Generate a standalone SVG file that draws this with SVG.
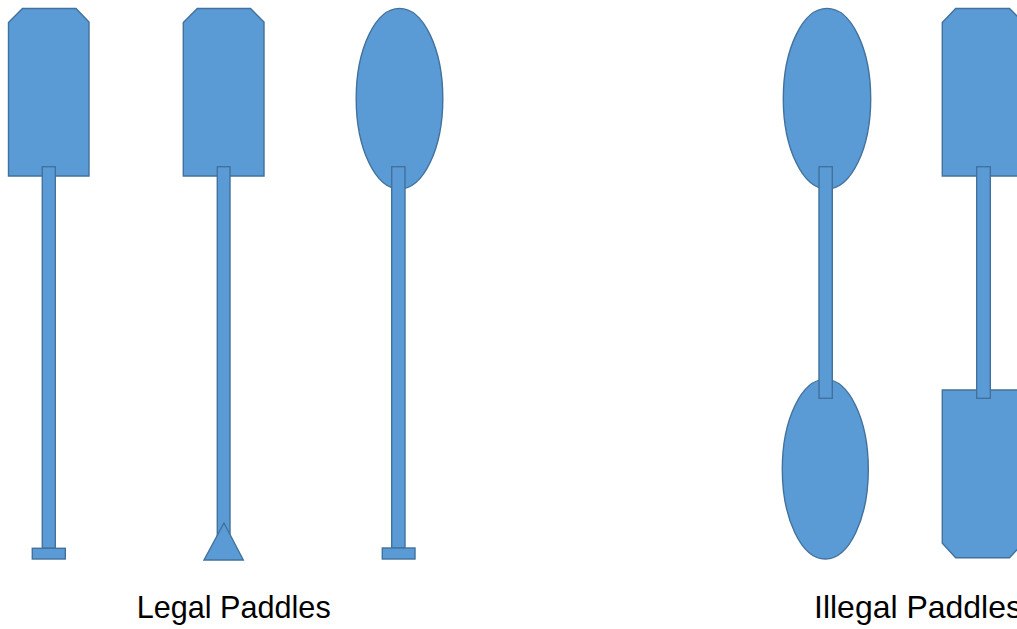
<svg xmlns="http://www.w3.org/2000/svg" width="1017" height="629" viewBox="0 0 1017 629">
<style>
.s{fill:#5B9BD5;stroke:#41719C;stroke-width:1.4;}
.t{font-family:"Liberation Sans",Arial,sans-serif;font-size:30.5px;fill:#000;}
</style>
<rect width="1017" height="629" fill="#fff"/>
<g id="paddle1">
<path class="s" d="M8.5,22.5 L22.5,8.5 L76,8.5 L89,22 L89,176 L8.5,176 Z"/>
<rect class="s" x="42.3" y="166.7" width="13" height="381.6"/>
<rect class="s" x="32.3" y="548.3" width="33" height="10.7"/>
</g>
<g id="paddle2">
<path class="s" d="M183.3,22.5 L197.3,8.5 L250.5,8.5 L264,22 L264,176 L183.3,176 Z"/>
<rect class="s" x="217.3" y="166.7" width="12.7" height="381.6"/>
<path class="s" d="M224,523 L243.3,560 L204,560 Z"/>
</g>
<g id="paddle3">
<ellipse class="s" cx="399.5" cy="98.7" rx="43.3" ry="90.3"/>
<rect class="s" x="391.7" y="166.7" width="13.3" height="381.4"/>
<rect class="s" x="382.3" y="548" width="32.7" height="11"/>
</g>
<g id="paddle4">
<ellipse class="s" cx="827" cy="98.7" rx="43.7" ry="90.3"/>
<ellipse class="s" cx="825.3" cy="469.2" rx="43" ry="89.8"/>
<rect class="s" x="819" y="166.7" width="13.3" height="231.6"/>
</g>
<g id="paddle5">
<path class="s" d="M942.3,22.5 L955.7,8.5 L1009.5,8.5 L1023,22 L1023,176 L942.3,176 Z"/>
<path class="s" d="M942.3,390 L1023,390 L1023,543.5 L1009.5,557.7 L955.7,557.7 L942.3,543.3 Z"/>
<rect class="s" x="976.7" y="166.7" width="13.6" height="231.6"/>
</g>
<g id="labels">
<text class="t" x="136.7" y="617.7" textLength="194" lengthAdjust="spacingAndGlyphs">Legal Paddles</text>
<text class="t" x="814" y="617.7" textLength="208" lengthAdjust="spacingAndGlyphs">Illegal Paddles</text>
</g>
</svg>
